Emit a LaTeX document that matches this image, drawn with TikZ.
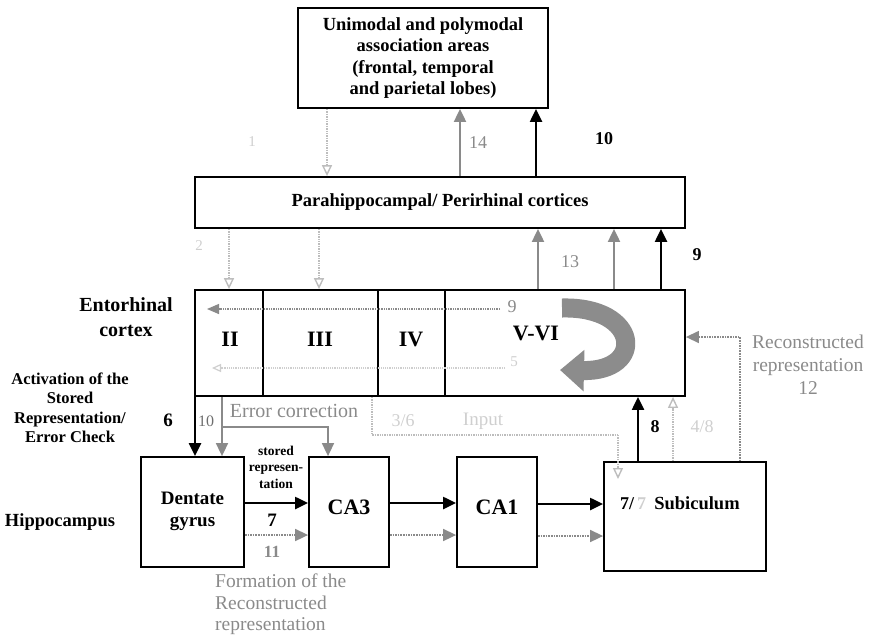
\documentclass[tikz,border=0pt]{standalone}
\usepackage{fontspec}
\setmainfont{Liberation Serif}
\usetikzlibrary{arrows.meta,positioning}
\definecolor{midgray}{HTML}{8A8A8A}
\definecolor{lightgray}{HTML}{BDBDBD}
\definecolor{faintgray}{HTML}{CFCFCF}
\definecolor{arrowgray}{HTML}{8C8C8C}
\tikzset{
  box/.style={draw=black, line width=1.8pt, fill=white, inner sep=0pt},
  blk/.style={draw=black, line width=2.2pt, -{Triangle[length=13pt,width=12pt]}},
  gry/.style={draw=midgray, line width=2pt, -{Triangle[length=13pt,width=12pt]}},
  gryd/.style={draw=midgray, line width=1.6pt, densely dotted, -{Triangle[length=13pt,width=12pt]}},
  lgt/.style={draw=lightgray, line width=1.4pt, densely dotted, -{Triangle[length=11pt,width=10pt,open]}},
  lgtline/.style={draw=lightgray, line width=1.4pt, densely dotted},
  bt/.style={font=\fontsize{#1}{#1}\selectfont\bfseries, inner sep=0pt, align=center},
  rt/.style={font=\fontsize{#1}{#1}\selectfont, inner sep=0pt, align=center},
}
\begin{document}
\begin{tikzpicture}[x=1pt,y=-1pt]
\useasboundingbox (0,0) rectangle (874,638);

% boxes
\node[box, minimum width=250pt, minimum height=100pt, align=center, font=\fontsize{18.5}{21.5}\selectfont\bfseries] (top) at (423,58)
  {Unimodal and polymodal\\association areas\\(frontal, temporal\\and parietal lobes)};
\node[box, minimum width=490pt, minimum height=51pt, font=\fontsize{18.5}{21}\selectfont\bfseries] (ppc) at (440,202.5) {Parahippocampal/ Perirhinal cortices};
\node[box, minimum width=490pt, minimum height=106pt] (ec) at (440,343) {};
\node[box, minimum width=103pt, minimum height=110pt] (dg) at (192.5,512) {};
\node[box, minimum width=80pt, minimum height=110pt] (ca3) at (349,512) {};
\node[box, minimum width=80pt, minimum height=110pt] (ca1) at (497,512) {};
\node[box, minimum width=162pt, minimum height=109pt] (sub) at (685,516.5) {};

% EC dividers
\foreach \xx in {263,378,445} \draw[line width=1.8pt] (\xx,290) -- (\xx,396);

% coordinates for connector positions
\coordinate (x1) at (327,0);
\coordinate (x14) at (460,0);
\coordinate (x10) at (536,0);
\coordinate (x2a) at (229,0);
\coordinate (x2b) at (319,0);
\coordinate (x13a) at (538,0);
\coordinate (x13b) at (614,0);
\coordinate (x9) at (661,0);
\coordinate (x6) at (195,0);
\coordinate (xg10) at (222,0);
\coordinate (xec) at (328,0);
\coordinate (x36) at (372,0);
\coordinate (x8) at (638,0);
\coordinate (x48) at (673,0);
\coordinate (x12) at (740,0);
\coordinate (yb) at (0,503);
\coordinate (yg) at (0,535);
\coordinate (ybs) at (0,504);
\coordinate (ygs) at (0,536);

% top <-> ppc
\draw[lgt] (top.south -| x1) -- (ppc.north -| x1);
\draw[gry] (ppc.north -| x14) -- (top.south -| x14);
\draw[blk] (ppc.north -| x10) -- (top.south -| x10);

% ppc <-> ec
\draw[lgt] (ppc.south -| x2a) -- (ec.north -| x2a);
\draw[lgt] (ppc.south -| x2b) -- (ec.north -| x2b);
\draw[gry] (ec.north -| x13a) -- (ppc.south -| x13a);
\draw[gry] (ec.north -| x13b) -- (ppc.south -| x13b);
\draw[blk] (ec.north -| x9) -- (ppc.south -| x9);

% inside EC
\coordinate (l9s) at (500,309);
\coordinate (l9e) at (207,309);
\draw[draw=midgray, line width=1.3pt, densely dotted, -{Triangle[length=12pt,width=10pt]}] (l9s) -- (l9e);
\coordinate (l5s) at (505,368);
\coordinate (l5e) at (212,368);
\draw[draw=faintgray, line width=1.2pt, densely dotted, -{Triangle[length=9pt,width=8pt,open]}] (l5s) -- (l5e);

% curved arrow
\draw[draw=arrowgray, line width=19pt, -{Triangle[length=24pt,width=40pt]}]
  (562,308) .. controls (640,306) and (646,372) .. (560,370);

% EC -> DG
\draw[blk] (ec.south -| x6) -- (dg.north -| x6);
\coordinate (b10) at (222,427);
\coordinate (c10) at (328,427);
\draw[gry, line width=1.6pt] (ec.south -| xg10) -- (dg.north -| xg10);
\draw[gry, line width=1.6pt] (b10) -- (c10) -- (ca3.north -| xec);

% 3/6 input
\coordinate (i1) at (372,435);
\coordinate (i2) at (618,435);
\coordinate (i3) at (618,479);
\draw[lgtline] (ec.south -| x36) -- (i1) -- (i2);
\draw[lgt] (i2) -- (i3);

% hippocampal chain
\draw[blk] (dg.east |- yb) -- (ca3.west |- yb);
\draw[gryd] (dg.east |- yg) -- (ca3.west |- yg);
\draw[blk] (ca3.east |- yb) -- (ca1.west |- yb);
\draw[gryd] (ca3.east |- yg) -- (ca1.west |- yg);
\draw[blk] (ca1.east |- ybs) -- (sub.west |- ybs);
\draw[gryd] (ca1.east |- ygs) -- (sub.west |- ygs);

% sub -> EC
\draw[blk] (sub.north -| x8) -- (ec.south -| x8);
\draw[lgt] (sub.north -| x48) -- (ec.south -| x48);
\coordinate (r12) at (740,337);
\draw[gryd, line width=1.4pt] (sub.north -| x12) -- (r12) -- (ec.east |- r12);

% labels
\node[rt=15, text=faintgray] (n1) at (252,142) {1};
\node[rt=18, text=midgray] (n14) at (478,143) {14};
\node[bt=18] (n10) at (604,139) {10};
\node[rt=15, text=faintgray] (n2) at (199,246) {2};
\node[rt=18, text=midgray] (n13) at (570,262) {13};
\node[bt=18] (n9) at (697,255) {9};

\node[inner sep=0pt, align=center, font=\fontsize{20}{25}\selectfont\bfseries] (entl) at (126,317) {Entorhinal\\cortex};
\node[inner sep=0pt, align=center, font=\fontsize{16.5}{19.5}\selectfont\bfseries] (act) at (70,408) {Activation of the\\Stored\\Representation/\\Error Check};
\node[bt=19] (n6) at (168,420) {6};
\node[rt=16, text=midgray!80!black] (n10b) at (206,421) {10};
\node[rt=20, text=midgray] (errc) at (294,411) {Error correction};
\node[rt=18, text=faintgray] (n36) at (403,421) {3/6};
\node[rt=19, text=faintgray] (inp) at (483,421) {Input};

\node[bt=22] (II) at (230,339) {II};
\node[bt=22] (III) at (320,339) {III};
\node[bt=22] (IV) at (411,339) {IV};
\node[bt=22] (VVI) at (536,333) {V-VI};
\node[rt=18, text=midgray] (n9b) at (512,307) {9};
\node[rt=15, text=faintgray] (n5) at (514,362) {5};

\node[inner sep=0pt, align=center, font=\fontsize{13.5}{16.5}\selectfont\bfseries] (stored) at (276,467) {stored\\represen-\\tation};
\node[inner sep=0pt, align=center, font=\fontsize{19}{22}\selectfont\bfseries] (dgt) at (192.5,511) {Dentate\\gyrus};
\node[bt=22] (ca3t) at (349,507) {CA3};
\node[bt=22] (ca1t) at (497,507) {CA1};
\node[bt=19] (n7) at (272,520) {7};
\node[bt=17, text=midgray] (n11) at (272,552) {11};
\node[bt=18.5] (hip) at (60,522) {Hippocampus};
\node[inner sep=0pt, text=midgray, align=left, anchor=north west, font=\fontsize{19.5}{21.5}\selectfont] (form) at (215,574) {Formation of the\\Reconstructed\\representation};

\node[bt=18, anchor=west] (s7) at (620,504) {7/};
\node[bt=18, anchor=west, text=faintgray] (s7b) at (637,504) {7};
\node[bt=18.5] (subt) at (697,503) {Subiculum};
\node[bt=18] (n8) at (655,427) {8};
\node[rt=18, text=faintgray] (n48) at (702,427) {4/8};
\node[inner sep=0pt, align=center, text=midgray, font=\fontsize{19.5}{23}\selectfont] (rec) at (808,365) {Reconstructed\\representation\\12};
\end{tikzpicture}
\end{document}
